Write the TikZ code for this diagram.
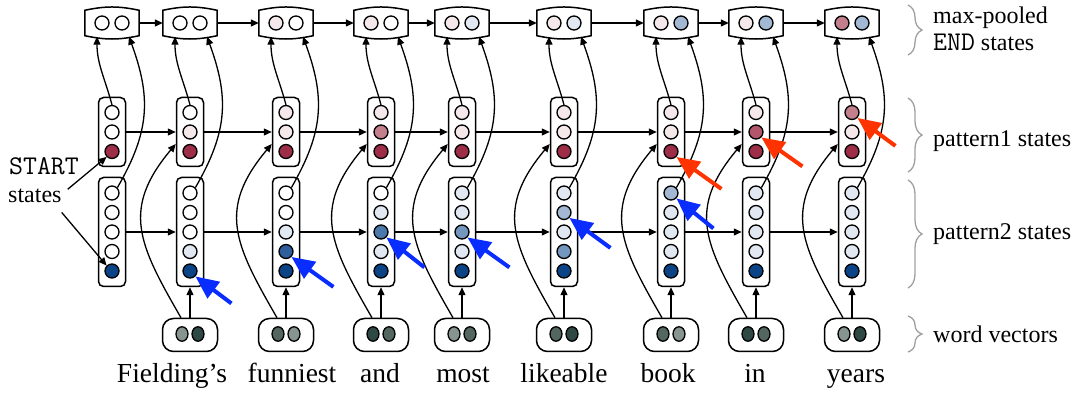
\documentclass[tikz,border=0pt]{standalone}
\usepackage{fontspec}
\setmainfont{Liberation Serif}
\usetikzlibrary{shapes,arrows.meta,decorations.pathreplacing}

\definecolor{rf}{HTML}{F4E8EB}
\definecolor{re}{HTML}{C47F8D}
\definecolor{rd}{HTML}{B2566B}
\definecolor{ra}{HTML}{9E2D48}
\definecolor{bf}{HTML}{E1E8F1}
\definecolor{be}{HTML}{A3B8D2}
\definecolor{bd}{HTML}{7497BF}
\definecolor{bc}{HTML}{4C79AC}
\definecolor{bb}{HTML}{2E5E9B}
\definecolor{ba}{HTML}{0A4486}
\definecolor{ga}{HTML}{86958F}
\definecolor{gb}{HTML}{53665F}
\definecolor{gc}{HTML}{2E4843}
\definecolor{hotred}{HTML}{FF3300}
\definecolor{hotblue}{HTML}{0A2DFF}

\newcommand{\ttword}[1]{{\fontsize{27}{30}\selectfont\ttfamily #1}}

\begin{document}
\begin{tikzpicture}[x=1pt,y=1pt]
        \tikzset{EdgeStyle/.style={-{Triangle[length=8pt,width=7pt]},line width=1.3pt},
                 HotArrow/.style={-{Triangle[length=23pt,width=20pt]},line width=4pt},
                 Dot/.style={circle,draw,line width=1.3pt,minimum size=14pt,inner sep=0pt},
                 WordDot/.style={ellipse,draw,line width=1.3pt,minimum width=12pt,minimum height=14.5pt,inner sep=0pt},
                 StateBox/.style={draw,rounded corners=5pt,line width=1.5pt,minimum width=27pt,inner sep=0pt},
                 WordBox/.style={draw,rounded corners=11pt,line width=1.5pt,minimum width=55pt,minimum height=33pt,inner sep=0pt},
                 TopBox/.style={minimum width=54pt,minimum height=25pt,inner sep=0pt},
                 Brace/.style={decorate,decoration={brace,amplitude=14pt},draw=gray!75,line width=1.3pt},
                 SideText/.style={inner sep=0pt,font=\fontsize{24}{28}\selectfont},
                 WordText/.style={inner sep=0pt,font=\fontsize{27.5}{32}\selectfont}}
        \useasboundingbox (0,0) rectangle (1080,396);

        % max-pooled END states
        \foreach \i/\x/\l/\r in {0/112/white/white,1/190/white/white,2/286/rf/white,3/381/rf/white,
                                 4/462/rf/bf,5/564/rf/bf,6/671/rf/be,7/756/rf/be,8/852/re/be}{
            \node[TopBox] (T\i) at (\x,373) {};
            \draw[line width=1.5pt] (T\i.north west) to[bend left=12] (T\i.north east) -- (T\i.south east)
                to[bend left=12] (T\i.south west) -- cycle;
            \node[Dot,fill=\l] (TL\i) at (\x-10,373) {};
            \node[Dot,fill=\r] (TR\i) at (\x+10,373) {};
        }

        % pattern1 states
        \foreach \i/\x/\a/\b/\c in {0/112/white/white/ra,1/190/white/rf/ra,2/286/rf/rf/ra,3/381/rf/re/ra,
                                    4/462/rf/rf/ra,5/564/rf/rf/ra,6/671/rf/rf/ra,7/756/rf/rd/ra,8/852/re/rf/ra}{
            \node[StateBox,minimum height=69pt] (PA\i) at (\x,264) {};
            \node[Dot,fill=\a] (A\i1) at (\x,283.5) {};
            \node[Dot,fill=\b] (A\i2) at (\x,264) {};
            \node[Dot,fill=\c] (A\i3) at (\x,244.5) {};
        }

        % pattern2 states
        \foreach \i/\x/\a/\b/\c/\d in {0/112/white/white/white/white,1/190/white/white/white/bf,2/286/white/white/bf/bb,
                                       3/381/white/bf/bc/bf,4/462/bf/bf/bd/bf,5/564/bf/be/bf/bd,
                                       6/671/be/bf/bf/bf,7/756/bf/bf/bf/bf,8/852/bf/bf/bf/bf}{
            \node[StateBox,minimum height=109pt] (PB\i) at (\x,164) {};
            \node[Dot,fill=\a] (B\i1) at (\x,203) {};
            \node[Dot,fill=\b] (B\i2) at (\x,183.5) {};
            \node[Dot,fill=\c] (B\i3) at (\x,164) {};
            \node[Dot,fill=\d] (B\i4) at (\x,144.5) {};
            \node[Dot,fill=ba] (B\i5) at (\x,125) {};
        }

        % word vectors
        \foreach \i/\x/\a/\b in {1/190/ga/gc,2/286/gb/ga,3/381/gc/gb,4/462/ga/gb,
                                 5/564/gb/gc,6/671/gb/ga,7/756/gc/gb,8/852/ga/gc}{
            \node[WordBox] (W\i) at (\x,61) {};
            \node[WordDot,fill=\a] (WL\i) at (\x-8,62) {};
            \node[WordDot,fill=\b] (WR\i) at (\x+8,62) {};
        }
        \foreach \i/\x/\w in {1/172/Fielding’s,2/292/funniest,3/380/and,4/463/most,
                              5/564/likeable,6/668/book,7/755/in,8/856/years}{
            \node[WordText,anchor=base] (N\i) at (\x,13) {\w};
        }

        \foreach \i [count=\j from 1] in {0,...,7}{
            \draw[EdgeStyle] (T\i) -- (T\j);
            \draw[EdgeStyle] (PA\i) -- (PA\j);
            \draw[EdgeStyle] (PB\i) -- (PB\j);
        }
        \foreach \i in {0,...,8}{
            \draw[EdgeStyle] (A\i1.north) to[out=105,in=-90] ([xshift=-15pt,yshift=-1pt]T\i.south);
            \draw[EdgeStyle] (B\i1.north east) to[out=60,in=-70,looseness=1.1] ([xshift=17pt,yshift=-1pt]T\i.south);
        }
        \foreach \i in {1,...,8}{
            \draw[EdgeStyle] (W\i) -- (PB\i);
            \draw[EdgeStyle] ([xshift=-9pt]W\i.north) to[out=120,in=230,looseness=1.25] ([yshift=-12pt]PA\i.west);
        }

        % START states
        \node[SideText,anchor=base west] (S1) at (9,221) {\ttword{START}};
        \node[SideText,anchor=base west] (S2) at (8,193) {states};
        \draw[EdgeStyle] ([xshift=6pt]S2.north east) -- (A03.south west);
        \draw[EdgeStyle] ([yshift=-9pt]S2.south east) -- (B05.north west);

        % highlighted states
        \draw[HotArrow,hotred] ([shift={(45,-32)}]A63.south east) -- (A63.south east);
        \draw[HotArrow,hotred] ([shift={(41,-29)}]A72.south east) -- (A72.south east);
        \draw[HotArrow,hotred] ([shift={(38,-28)}]A81.south east) -- (A81.south east);
        \draw[HotArrow,hotblue] ([shift={(36,-27)}]B15.south east) -- (B15.south east);
        \draw[HotArrow,hotblue] ([shift={(42,-30)}]B24.south east) -- (B24.south east);
        \draw[HotArrow,hotblue] ([shift={(38,-30)}]B33.south east) -- (B33.south east);
        \draw[HotArrow,hotblue] ([shift={(42,-30)}]B43.south east) -- (B43.south east);
        \draw[HotArrow,hotblue] ([shift={(41,-30)}]B52.south east) -- (B52.south east);
        \draw[HotArrow,hotblue] ([shift={(37,-30)}]B61.south east) -- (B61.south east);

        % braces
        \draw[Brace] (908,391) -- (908,341);
        \draw[Brace] (908,298) -- (908,224);
        \draw[Brace] (908,216) -- (908,108);
        \draw[Brace] (908,80) -- (908,44);
        \node[SideText,anchor=base west] (L1) at (933,372) {max-pooled};
        \node[SideText,anchor=base west] (L2) at (933,345) {\ttword{END} states};
        \node[SideText,anchor=base west] (L3) at (933,249) {pattern1 states};
        \node[SideText,anchor=base west] (L4) at (933,156) {pattern2 states};
        \node[SideText,anchor=base west] (L5) at (933,53) {word vectors};
    \end{tikzpicture}
\end{document}
